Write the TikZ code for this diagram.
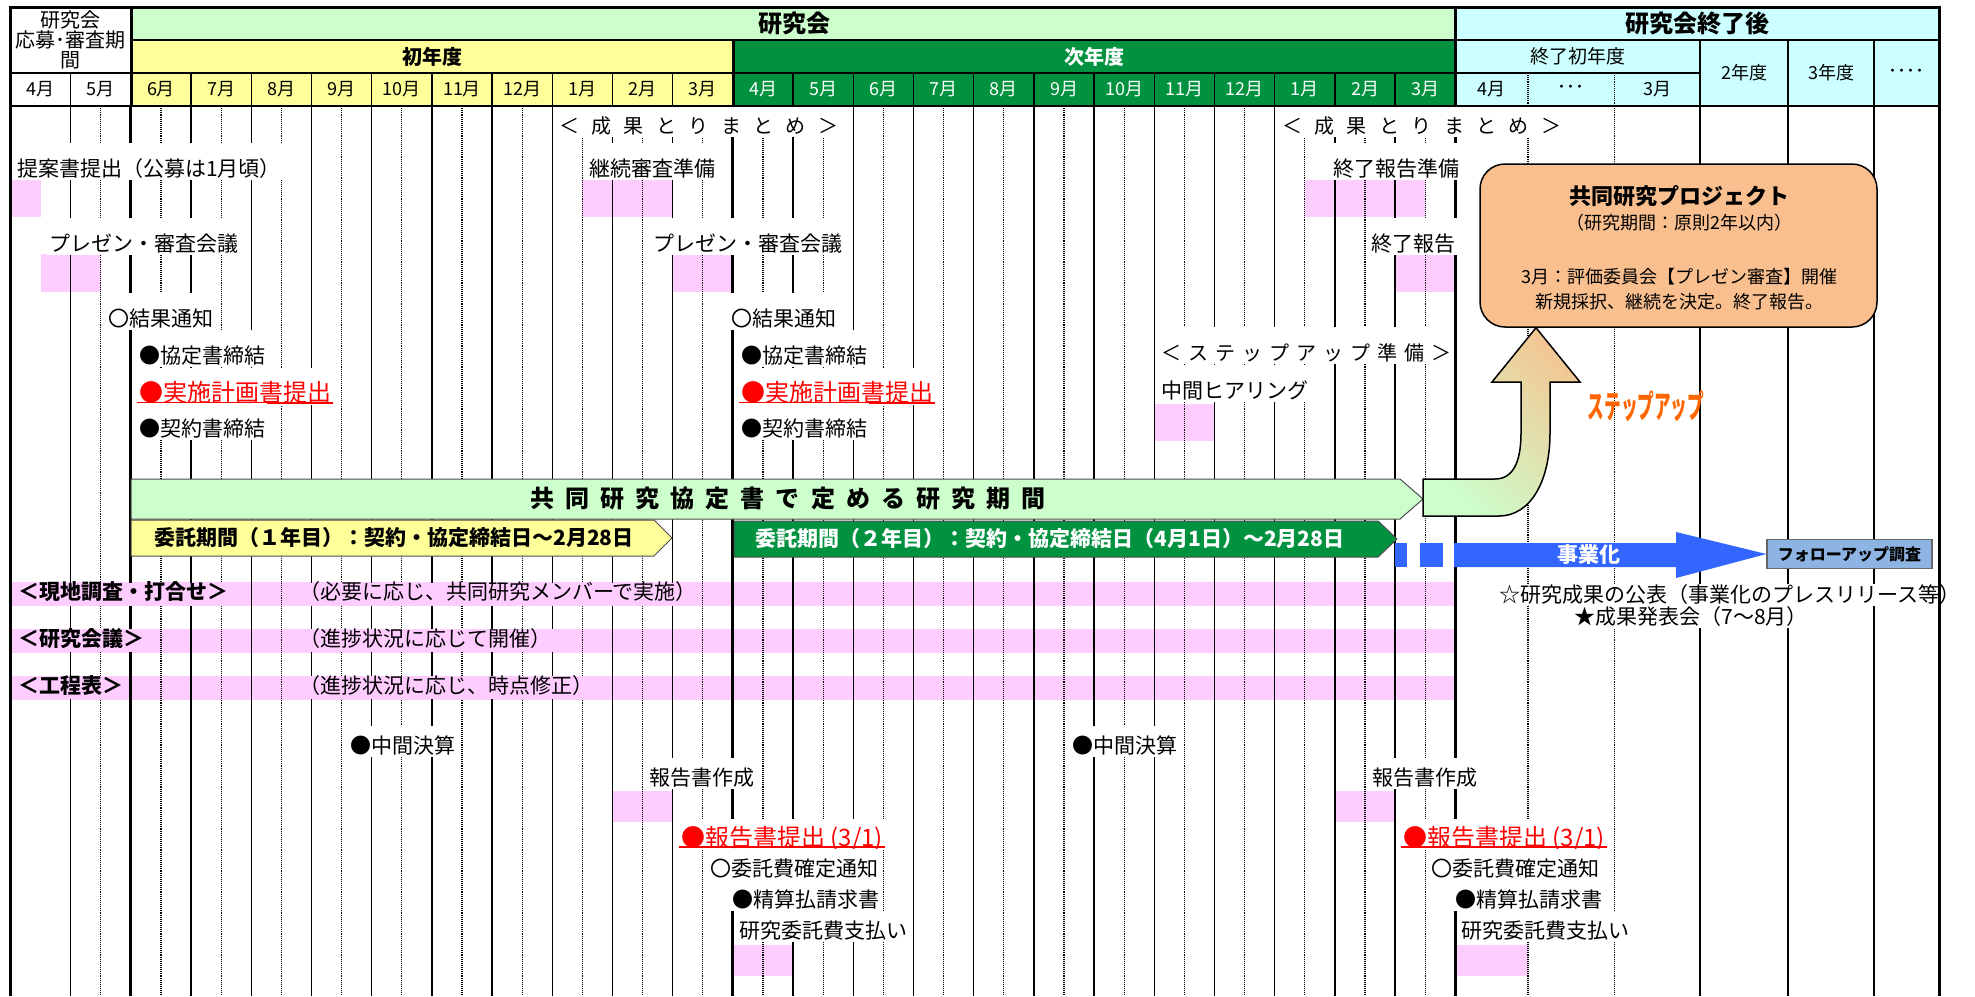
\documentclass[tikz,border=0pt]{standalone}
\usepackage{fontspec}
\setmainfont{Noto Sans CJK JP}
\newfontfamily\spfont[LetterSpace=62]{Noto Sans CJK JP}
\newfontfamily\spfontc[LetterSpace=46]{Noto Sans CJK JP}
\newfontfamily\spfontb[LetterSpace=35]{Noto Sans CJK JP}
\usetikzlibrary{calc}
\definecolor{lgreen}{HTML}{CCFFCC}
\definecolor{yel}{HTML}{FFFF99}
\definecolor{dgreen}{HTML}{00923F}
\definecolor{lcyan}{HTML}{CCFFFF}
\definecolor{pinkc}{HTML}{FFCCFF}
\definecolor{orangeb}{HTML}{F9BF8F}
\definecolor{tanc}{HTML}{F2C794}
\definecolor{bluec}{HTML}{3366FF}
\definecolor{fublue}{HTML}{8DB4E2}
\definecolor{stepor}{HTML}{FF6600}
\newcommand\fsz[1]{\fontsize{#1}{#1}\selectfont}
\tikzset{
  vsolid/.style={line width=1.3pt},
  vdot/.style={line width=1.1pt, densely dotted},
  vthick/.style={line width=3pt},
  trow/.style={anchor=base west, fill=white, inner xsep=2pt, inner ysep=0pt,
    text height=33pt, text depth=4pt, font=\fsz{21}},
  srow/.style={trow, text height=27pt},
  redrow/.style={text=red, font=\fsz{24}},
  bandtxt/.style={anchor=west, fill=pinkc, inner xsep=2pt, inner ysep=1pt,
    text height=16pt, text depth=5pt, font=\fsz{21}},
  mon/.style={font=\fsz{18}},
  chev/.style={draw=black!70, line width=1pt},
}
\begin{document}
\begin{tikzpicture}[x=1pt, y=-1pt, font=\fsz{21}]
\def\xo{10.5} \def\mw{60.2} % 月の幅
\def\ytop{106} \def\ybot{996}
\useasboundingbox (0,0) rectangle (1975,996);
% ピンクの枠
\fill[pinkc] (10,180) rectangle (40.6,217);
\fill[pinkc] (582.4,180) rectangle (672.7,217);
\fill[pinkc] (1304.8,180) rectangle (1425.2,217);
\fill[pinkc] (40.6,254) rectangle (100.8,292);
\fill[pinkc] (672.7,254) rectangle (732.9,292);
\fill[pinkc] (1395.1,254) rectangle (1455.3,292);
\fill[pinkc] (1154.3,404) rectangle (1214.5,441);
\fill[pinkc] (612.5,791) rectangle (672.7,822);
\fill[pinkc] (1334.9,791) rectangle (1395.1,822);
\fill[pinkc] (732.9,945) rectangle (793.1,976);
\fill[pinkc] (1455.3,945) rectangle (1528,976);
\foreach \yy in {582,629,676} \fill[pinkc] (10,\yy) rectangle (1455,\yy+24);
% 縦線
\foreach \i in {1,3,4,5,6,7,8,9,10,11,13,14,15,16,17,18,19,20,21,22,23}
  \draw[vsolid] ({\xo+\mw*\i},\ytop) -- ({\xo+\mw*\i},\ybot);
\foreach \i in {1,...,23}
  \draw[vdot] ({\xo+\mw*\i+\mw/2},\ytop) -- ({\xo+\mw*\i+\mw/2},\ybot);
\foreach \xx in {1528,1614.5} \draw[vdot] (\xx,\ytop) -- (\xx,\ybot);
\foreach \xx in {1700,1788,1874} \draw[vsolid] (\xx,\ytop) -- (\xx,\ybot);
\foreach \i in {2,12,24} \draw[vthick] ({\xo+\mw*\i},\ytop) -- ({\xo+\mw*\i},\ybot);
% 初年度・次年度の項目
\node (sum1) [trow, font=\spfont\fsz{20}] at (557,133) {＜成果とりまとめ＞};
\node (sum2) [trow, font=\spfont\fsz{20}] at (1280,133) {＜成果とりまとめ＞};
\node (prop) [trow] at (15,176) {提案書提出（公募は1月頃）};
\node (cont) [trow] at (587,176) {継続審査準備};
\node (finprep) [trow] at (1331,176) {終了報告準備};
\node (pres1) [trow] at (47,251) {プレゼン・審査会議};
\node (pres2) [trow] at (651,251) {プレゼン・審査会議};
\node (finrep) [trow] at (1369,251) {終了報告};
\node (res1) [trow] at (106,326) {〇結果通知};
\node (res2) [trow] at (729,326) {〇結果通知};
\node (agr1) [trow] at (137,363) {●協定書締結};
\node (agr2) [trow] at (739,363) {●協定書締結};
\node (stepprep) [trow, font=\spfontb\fsz{20}] at (1159,360) {＜ステップアップ準備＞};
\node (plan1) [trow, redrow] at (137,401) {●実施計画書提出};
\node (plan2) [trow, redrow] at (739,401) {●実施計画書提出};
\draw[red, line width=2pt] ([yshift=-2pt]plan1.base west) -- ([yshift=-2pt]plan1.base east);
\draw[red, line width=2pt] ([yshift=-2pt]plan2.base west) -- ([yshift=-2pt]plan2.base east);
\node (hear) [trow] at (1159,398) {中間ヒアリング};
\node (ctr1) [trow] at (137,436) {●契約書締結};
\node (ctr2) [trow] at (739,436) {●契約書締結};
% 帯の項目
\node (site) [bandtxt, font=\fsz{21}\bfseries] at (16,594) {＜現地調査・打合せ＞};
\node (sitec) [bandtxt] at (297,594) {（必要に応じ、共同研究メンバーで実施）};
\node (meet) [bandtxt, font=\fsz{21}\bfseries] at (16,640.5) {＜研究会議＞};
\node (meetc) [bandtxt] at (297,640.5) {（進捗状況に応じて開催）};
\node (sched) [bandtxt, font=\fsz{21}\bfseries] at (16,687.5) {＜工程表＞};
\node (schedc) [bandtxt] at (297,687.5) {（進捗状況に応じ、時点修正）};
% 決算・報告
\node (mid1) [srow] at (348,753) {●中間決算};
\node (mid2) [srow] at (1070,753) {●中間決算};
\node (rep1) [srow] at (647,785) {報告書作成};
\node (rep2) [srow] at (1370,785) {報告書作成};
\node (sub1) [srow, redrow] at (679,846) {●報告書提出 (3/1)};
\node (sub2) [srow, redrow] at (1401,846) {●報告書提出 (3/1)};
\draw[red, line width=2pt] ([yshift=-1pt]sub1.base west) -- ([yshift=-1pt]sub1.base east);
\draw[red, line width=2pt] ([yshift=-1pt]sub2.base west) -- ([yshift=-1pt]sub2.base east);
\node (fix1) [srow] at (708,876) {〇委託費確定通知};
\node (fix2) [srow] at (1429,876) {〇委託費確定通知};
\node (pay1) [srow] at (730,907) {●精算払請求書};
\node (pay2) [srow] at (1453,907) {●精算払請求書};
\node (fee1) [srow] at (737,938) {研究委託費支払い};
\node (fee2) [srow] at (1459,938) {研究委託費支払い};
% 研究期間の矢印
\draw[chev, fill=lgreen] (131,479) -- (1400,479) -- (1423,499) -- (1400,519) -- (131,519) -- cycle;
\node (kikan) [font=\spfontc\bfseries\fsz{24}] at (788,498) {共同研究協定書で定める研究期間};
\draw[chev, fill=yel] (131,520) -- (654,520) -- (672,538) -- (654,556) -- (131,556) -- cycle;
\node (itaku1) [font=\bfseries\fsz{21}] at (394,538) {委託期間（１年目）：契約・協定締結日～2月28日};
\draw[chev, fill=dgreen] (734,521) -- (1378,521) -- (1397,539) -- (1378,557) -- (734,557) -- cycle;
\node (itaku2) [font=\bfseries\fsz{21}, text=white] at (1050,539) {委託期間（２年目）：契約・協定締結日（4月1日）～2月28日};
% 共同研究プロジェクト
\node (proj) [draw, line width=1.5pt, rounded corners=25pt, fill=orangeb,
  minimum width=397pt, minimum height=163pt, inner sep=0pt] at (1678.5,245.5) {};
\node (projt) [font=\fsz{22}\bfseries] at (1679,196) {共同研究プロジェクト};
\node (projp) [font=\fsz{18}] at (1679,223) {（研究期間：原則2年以内）};
\node (projm) [font=\fsz{18}] at (1679,277) {3月：評価委員会【プレゼン審査】開催};
\node (projd) [font=\fsz{18}] at (1679,302) {新規採択、継続を決定。終了報告。};
\shadedraw[line width=1.5pt, top color=tanc, bottom color=lgreen, shading angle=-45]
  (1423,479) -- (1495,479) .. controls (1513,479) and (1521,462) .. (1521,433)
  -- (1521,382) -- (1492,382) -- (proj.south -| 1536,0) -- (1580,382) -- (1550,382)
  -- (1550,433) .. controls (1550,482) and (1530,516) .. (1499,516) -- (1423,516) -- cycle;
\node (stepup) [text=stepor, font=\bfseries\fsz{32}] at (1646,406) {\scalebox{0.52}[1]{ステップアップ}};
% 事業化
\node (fu) [draw=black!60, line width=1.2pt, fill=fublue, minimum width=165pt,
  minimum height=29pt, inner sep=0pt, font=\fsz{16}\bfseries] at (1849.5,554) {フォローアップ調査};
\fill[bluec] (1395,543) rectangle (1407,567);
\fill[bluec] (1420,543) rectangle (1443,567);
\fill[bluec] (1454,543) -- (1676,543) -- (1676,532) -- (fu.west) -- (1676,578) -- (1676,567) -- (1454,567) -- cycle;
\node (jigyo) [text=white, font=\bfseries\fsz{21}] at (1589,555) {事業化};
\node (pub) [fill=white, inner sep=1pt] at (1729.5,595) {☆研究成果の公表（事業化のプレスリリース等）};
\node (pubm) [fill=white, inner sep=1pt] at (1691,617) {★成果発表会（7～8月）};
% 見出し
\fill[white] (10,7) rectangle (131,106);
\fill[lgreen] (131,7) rectangle (1455,40);
\fill[lcyan] (1455,7) rectangle (1939,106);
\fill[yel] (131,40) rectangle (733,106);
\fill[dgreen] (733,40) rectangle (1455,106);
\draw[line width=3pt] (8.5,7) -- (1940.5,7);
\draw[line width=2pt] (131,40) -- (1939,40);
\draw[line width=1.5pt] (10,73) -- (1700,73);
\draw[line width=2pt] (10,106) -- (1939,106);
\foreach \i in {1,3,4,5,6,7,8,9,10,11,13,14,15,16,17,18,19,20,21,22,23}
  \draw[vsolid] ({\xo+\mw*\i},73) -- ({\xo+\mw*\i},106);
\foreach \xx in {1528,1614.5} \draw[vdot] (\xx,73) -- (\xx,106);
\foreach \xx in {1700,1788,1874} \draw[line width=1.5pt] (\xx,40) -- (\xx,106);
\draw[vthick] (131,7) -- (131,106) (1455,7) -- (1455,106) (733,40) -- (733,106);
\draw[vthick] (10,7) -- (10,\ybot) (1939,7) -- (1939,\ybot);
\node (hdtl) [align=center, font=\fontsize{20}{20}\selectfont, inner sep=0pt] at (70.5,40) {研究会\\応募･審査期\\間};
\node (hdken) [font=\bfseries\fsz{24}] at (794,23) {研究会};
\node (hdpost) [font=\bfseries\fsz{24}] at (1697,23) {研究会終了後};
\node (hdy1) [font=\bfseries\fsz{20}] at (432,56.5) {初年度};
\node (hdy2) [font=\bfseries\fsz{20}, text=white] at (1094,56.5) {次年度};
\node (hdpy1) [font=\fsz{19}] at (1578,56.5) {終了初年度};
\node (hdpy2) [mon] at (1744,73) {2年度};
\node (hdpy3) [mon] at (1831,73) {3年度};
\node (hdpdots) [mon] at (1906.5,73) {････};
\foreach \m [count=\k from 0] in {4,5,6,7,8,9,10,11,12,1,2,3} {
  \node (ma\k) [mon] at ({\xo+\mw*\k+\mw/2},89.5) {\m 月};
  \node (mb\k) [mon, text=white] at ({\xo+\mw*(\k+12)+\mw/2},89.5) {\m 月};
}
\node (mp1) [mon] at (1491.5,89.5) {4月};
\node (mp2) [mon] at (1571,89.5) {･･･};
\node (mp3) [mon] at (1657,89.5) {3月};
\end{tikzpicture}
\end{document}
